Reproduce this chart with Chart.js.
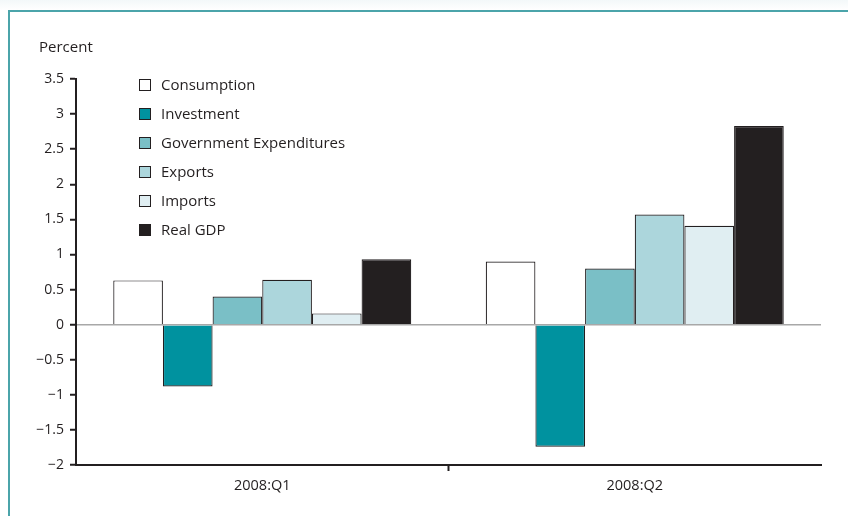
<!DOCTYPE html>
<html>
<head>
<meta charset="utf-8">
<title>Contributions to real GDP growth</title>
<script src="https://cdn.jsdelivr.net/npm/chart.js@4.4.1/dist/chart.umd.min.js"></script>
<style>
  html, body { margin: 0; padding: 0; background: #fff; }
  #wrap { position: relative; width: 848px; height: 516px; overflow: hidden;
          background: linear-gradient(#f3f8f9, #fff 10px); }
  #frame { position: absolute; left: 8px; top: 10px; right: -4px; bottom: -4px;
           border-top: 2px solid #4ba4aa; border-left: 2px solid #4ba4aa; background: #fff; }
  canvas { position: absolute; left: 0; top: 0; }
</style>
</head>
<body>
<div id="wrap">
  <div id="frame"></div>
  <canvas id="chart" width="848" height="516"></canvas>
</div>
<script>
/* ── Data ─────────────────────────────────────────── */
var quarters = ['2008:Q1', '2008:Q2'];
var seriesNames = ['Consumption', 'Investment', 'Government Expenditures', 'Exports', 'Imports', 'Real GDP'];
var consumption = [0.63, 0.90];
var investment  = [-0.88, -1.74];
var government  = [0.40, 0.80];
var exportsVals = [0.64, 1.57];
var importsVals = [0.16, 1.41];
var realGdp     = [0.93, 2.83];
var yTicks = [3.5, 3, 2.5, 2, 1.5, 1, 0.5, 0, -0.5, -1, -1.5, -2];

var seriesColors = ['#ffffff', '#00929f', '#7abfc6', '#acd6dc', '#e0eef2', '#231f20'];
var ink = '#231f20';
var font = "'Open Sans', 'DejaVu Sans', sans-serif";

/* ── Plugins: "Percent" label and legend block ───── */
var extras = {
  id: 'extras',
  afterDraw: function (chart) {
    var c = chart.ctx;
    c.save();
    c.fillStyle = ink;
    c.font = '15px ' + font;
    c.textBaseline = 'middle';
    c.textAlign = 'left';
    c.fillText('Percent', 39, 48);

    chart.data.datasets.forEach(function (ds, i) {
      var y = 85 + i * 29;
      c.fillStyle = ds.backgroundColor;
      c.fillRect(139, y - 6, 12, 12);
      c.strokeStyle = ink;
      c.lineWidth = 1;
      c.strokeRect(139.5, y - 5.5, 11, 11);
      c.fillStyle = ink;
      c.fillText(ds.label, 161, y + 1);
    });
    c.restore();
  }
};

var allSeries = [consumption, investment, government, exportsVals, importsVals, realGdp];

new Chart(document.getElementById('chart'), {
  type: 'bar',
  data: {
    labels: quarters,
    datasets: allSeries.map(function (vals, i) {
      return {
        label: seriesNames[i],
        data: vals,
        backgroundColor: seriesColors[i],
        borderColor: ink,
        borderWidth: 1.2,
        categoryPercentage: 0.8,
        barPercentage: 1.0
      };
    })
  },
  options: {
    responsive: false,
    animation: false,
    devicePixelRatio: 1,
    layout: { padding: { top: 79, right: 27, left: 0, bottom: 0 } },
    plugins: { legend: { display: false }, tooltip: { enabled: false } },
    scales: {
      x: {
        afterFit: function (s) { s.height = 51; },
        border: { color: ink, width: 2 },
        grid: {
          drawOnChartArea: false,
          tickLength: 6,
          tickWidth: 2,
          tickColor: function (ctx) { return ctx.index === 1 ? ink : 'rgba(0,0,0,0)'; }
        },
        ticks: { color: ink, font: { family: font, size: 14.5 }, padding: 6 }
      },
      y: {
        min: -2,
        max: 3.5,
        afterFit: function (s) { s.width = 76; },
        afterBuildTicks: function (s) {
          s.ticks = yTicks.map(function (v) { return { value: v }; });
        },
        border: { color: ink, width: 2 },
        grid: {
          drawOnChartArea: true,
          color: function (ctx) { return ctx.tick && ctx.tick.value === 0 ? '#a8a8a8' : 'rgba(0,0,0,0)'; },
          lineWidth: 1.5,
          tickColor: ink,
          tickWidth: 2,
          tickLength: 6
        },
        ticks: {
          color: ink,
          font: { family: font, size: 14 },
          padding: 6,
          callback: function (v) { return String(v).replace('-', '\u2212'); }
        }
      }
    }
  },
  plugins: [extras]
});
</script>
</body>
</html>
